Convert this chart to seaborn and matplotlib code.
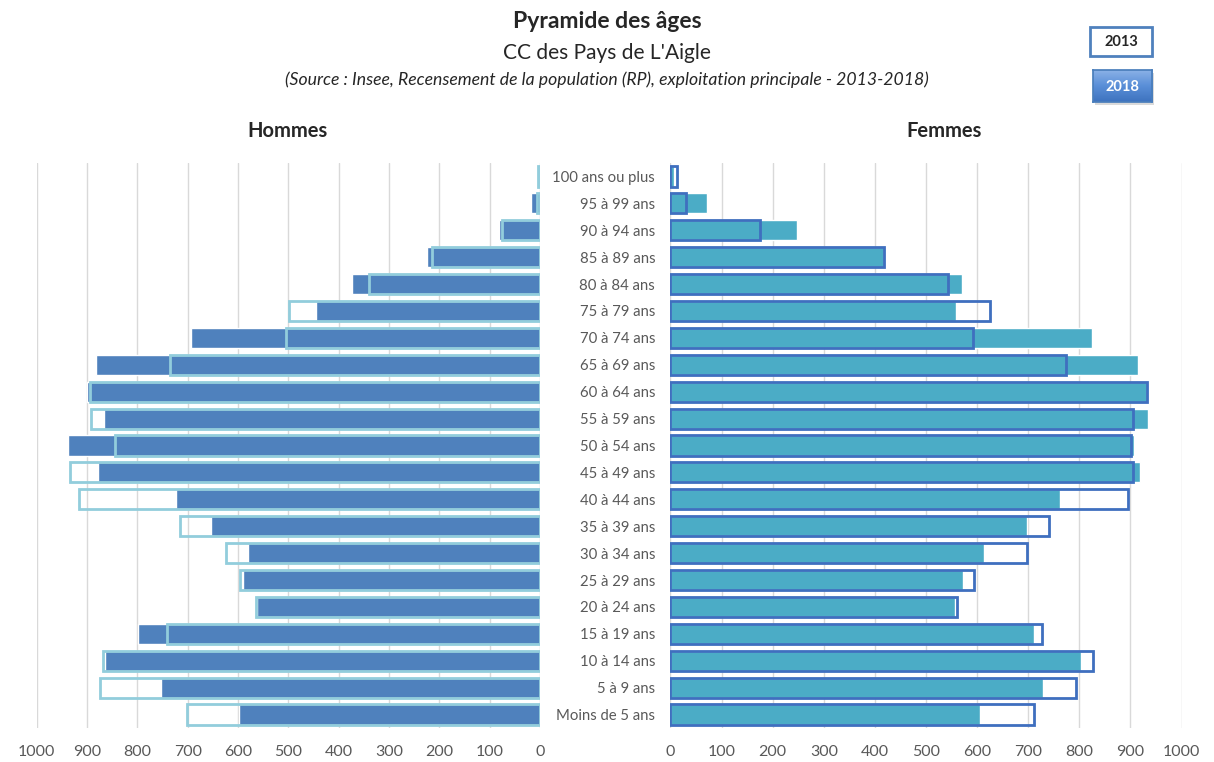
import numpy as np
import pandas as pd
import seaborn as sns
import matplotlib.pyplot as plt
from matplotlib.patches import Rectangle

# age groups, top to bottom
ages = ["100 ans ou plus", "95 à 99 ans", "90 à 94 ans", "85 à 89 ans", "80 à 84 ans",
        "75 à 79 ans", "70 à 74 ans", "65 à 69 ans", "60 à 64 ans", "55 à 59 ans",
        "50 à 54 ans", "45 à 49 ans", "40 à 44 ans", "35 à 39 ans", "30 à 34 ans",
        "25 à 29 ans", "20 à 24 ans", "15 à 19 ans", "10 à 14 ans", "5 à 9 ans",
        "Moins de 5 ans"]

hommes_2018 = [2, 17, 82, 224, 373, 445, 694, 882, 901, 867, 938,
               879, 724, 653, 580, 590, 562, 798, 864, 754, 599]
hommes_2013 = [4, 6, 75, 214, 340, 499, 504, 735, 894, 892, 844,
               933, 916, 715, 624, 597, 565, 741, 869, 874, 702]
femmes_2018 = [6, 72, 248, 418, 570, 559, 825, 915, 932, 934, 907,
               918, 763, 697, 613, 573, 557, 711, 803, 729, 606]
femmes_2013 = [12, 31, 176, 418, 542, 626, 592, 773, 932, 904, 901,
               904, 896, 741, 698, 593, 560, 727, 826, 794, 712]

ticks = [0, 100, 200, 300, 400, 500, 600, 700, 800, 900, 1000]

df = pd.DataFrame({"age": ages, "h18": hommes_2018, "h13": hommes_2013,
                   "f18": femmes_2018, "f13": femmes_2013})

sns.set_theme(style="white")
plt.rcParams['font.family'] = ['Lato', 'DejaVu Sans']

fig = plt.figure(figsize=(12.14, 7.62), dpi=100)
ax_h = fig.add_axes([0.0303, 0.0446, 0.4145, 0.7415])
ax_f = fig.add_axes([0.5523, 0.0446, 0.421, 0.7415])

# hommes
sns.barplot(data=df, x="h18", y="age", order=ages, orient="h", ax=ax_h,
            color="#4F81BD", saturation=1, width=0.75, zorder=2)
sns.barplot(data=df, x="h13", y="age", order=ages, orient="h", ax=ax_h,
            color="#92CDDC", saturation=1, width=0.75, fill=False, linewidth=2, zorder=3)
ax_h.set_xlim(1000, 0)

# femmes
sns.barplot(data=df, x="f18", y="age", order=ages, orient="h", ax=ax_f,
            color="#4BACC6", saturation=1, width=0.75, zorder=2)
sns.barplot(data=df, x="f13", y="age", order=ages, orient="h", ax=ax_f,
            color="#3F6FBF", saturation=1, width=0.75, fill=False, linewidth=2, zorder=3)
ax_f.set_xlim(0, 1000)

for ax in (ax_h, ax_f):
    ax.set_ylim(len(ages) - 0.5, -0.5)
    ax.set_xticks(ticks)
    ax.set_xlabel("")
    ax.set_ylabel("")
    ax.grid(True, axis="x", color="#D9D9D9", linewidth=1, zorder=0)
    ax.set_axisbelow(True)
    sns.despine(ax=ax, left=True, bottom=True)
    ax.tick_params(axis="x", length=0, pad=12, labelsize=11.5, labelcolor="#595959")

ax_h.set_yticks([])
ax_f.tick_params(axis="y", length=0, pad=11, labelsize=10.7, labelcolor="#595959")

fig.text(0.5, 0.972, "Pyramide des âges", ha="center", va="center",
         fontsize=16.5, fontweight="bold")
fig.text(0.5, 0.931, "CC des Pays de L'Aigle", ha="center", va="center", fontsize=15)
fig.text(0.5, 0.895, "(Source : Insee, Recensement de la population (RP), exploitation principale - 2013-2018)",
         ha="center", va="center", fontsize=12.7, fontstyle="italic")
fig.text(0.237, 0.828, "Hommes", ha="center", va="center", fontsize=14.5, fontweight="bold")
fig.text(0.778, 0.828, "Femmes", ha="center", va="center", fontsize=14.5, fontweight="bold")

# legend boxes
fig.patches.append(Rectangle((0.898, 0.9265), 0.0511, 0.038, transform=fig.transFigure,
                             facecolor="white", edgecolor="#4F81BD", linewidth=2))
fig.text(0.9235, 0.9455, "2013", ha="center", va="center", fontsize=10.5, fontweight="bold")

shadow = fig.add_axes([0.9018, 0.8625, 0.0486, 0.042])
shadow.set_facecolor("#DADADA")
shadow.set_xticks([])
shadow.set_yticks([])
for s in shadow.spines.values():
    s.set_visible(False)
grad = fig.add_axes([0.9003, 0.8661, 0.0486, 0.042])
grad.imshow(np.linspace(0, 1, 50).reshape(-1, 1), aspect="auto", cmap=sns.blend_palette(
    ["#8DB3E8", "#5A8FD8", "#3E73BF"], as_cmap=True), extent=(0, 1, 0, 1))
grad.set_xticks([])
grad.set_yticks([])
for s in grad.spines.values():
    s.set_color("#4A7EBB")
grad.text(0.5, 0.47, "2018", ha="center", va="center", fontsize=10.5, fontweight="bold",
          color="white", transform=grad.transAxes)

fig.savefig("out.png", dpi=100)
